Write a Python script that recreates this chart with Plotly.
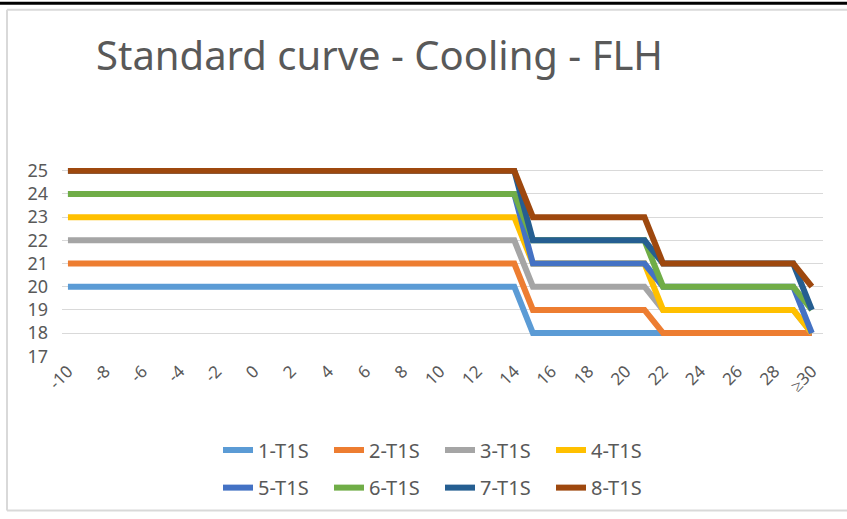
import plotly.graph_objects as go

# Outdoor temperature categories (-10 ... 29, then >=30)
temps = [str(t) for t in range(-10, 30)] + ["≥30"]
tick_labels = [str(t) for t in range(-10, 30, 2)] + ["≥30"]

# Setpoint per temperature band: -10..14, 15..21, 22..29, >=30
band_sizes = [25, 7, 8, 1]
s1 = [20, 18, 18, 18]
s2 = [21, 19, 18, 18]
s3 = [22, 20, 19, 18]
s4 = [23, 21, 19, 18]
s5 = [24, 21, 20, 18]
s6 = [24, 22, 20, 19]
s7 = [25, 22, 21, 19]
s8 = [25, 23, 21, 20]

names = ["1-T1S", "2-T1S", "3-T1S", "4-T1S", "5-T1S", "6-T1S", "7-T1S", "8-T1S"]
bands = [s1, s2, s3, s4, s5, s6, s7, s8]
colors = ["#5B9BD5", "#ED7D31", "#A5A5A5", "#FFC000",
          "#4472C4", "#70AD47", "#255E91", "#9E480E"]


def expand(levels):
    out = []
    for v, n in zip(levels, band_sizes):
        out += [v] * n
    return out


fig = go.Figure()
for i, (name, lv, c) in enumerate(zip(names, bands, colors)):
    fig.add_trace(go.Scatter(
        x=temps, y=expand(lv), name=name, mode="lines",
        line=dict(color=c, width=6),
        legend="legend" if i < 4 else "legend2",
    ))

L, R, T, B = 62, 24, 168, 160
W, H = 847, 519
pw, ph = W - L - R, H - T - B


def px_x(px):
    return (px - L) / pw


def px_y(py):
    return (H - B - py) / ph


grey = "#595959"
legend_style = dict(orientation="h", x=px_x(218), xanchor="left",
                    yanchor="middle",
                    font=dict(size=20, color=grey),
                    entrywidth=66, entrywidthmode="pixels",
                    bgcolor="rgba(0,0,0,0)", tracegroupgap=0)

fig.update_layout(
    width=W, height=H,
    margin=dict(l=L, r=R, t=T, b=B),
    paper_bgcolor="white", plot_bgcolor="white",
    font=dict(family="Noto Sans", color=grey),
    title=dict(text="Standard curve - Cooling - FLH",
               font=dict(size=40, color=grey, family="Noto Sans"),
               x=96 / W, xanchor="left", xref="container",
               y=1 - 56 / H, yanchor="middle", yref="container"),
    xaxis=dict(type="category", categoryorder="array", categoryarray=temps,
               range=[-0.32, 40.6], tickmode="array", tickvals=tick_labels,
               ticktext=tick_labels, tickangle=-45,
               tickfont=dict(size=17, color=grey),
               showgrid=False, showline=False, ticks="", zeroline=False),
    yaxis=dict(range=[16.97, 25.12], tickmode="array",
               tickvals=list(range(17, 26)),
               tickfont=dict(size=18, color=grey),
               showgrid=True, gridcolor="#D9D9D9", gridwidth=1,
               zeroline=False, showline=False, ticks="",
               ticklabelstandoff=13),
    legend=dict(legend_style, y=px_y(453)),
    legend2=dict(legend_style, y=px_y(491)),
    shapes=[
        # dark band along the top edge
        dict(type="rect", xref="paper", yref="paper",
             x0=px_x(0), x1=px_x(W), y0=px_y(0), y1=px_y(3),
             fillcolor="black", line=dict(width=0), layer="above"),
        # light frame around the chart
        dict(type="line", xref="paper", yref="paper",
             x0=px_x(7), x1=px_x(W), y0=px_y(8), y1=px_y(8),
             line=dict(color="#D9D9D9", width=2)),
        dict(type="line", xref="paper", yref="paper",
             x0=px_x(7), x1=px_x(7), y0=px_y(8), y1=px_y(514),
             line=dict(color="#D9D9D9", width=2)),
        dict(type="line", xref="paper", yref="paper",
             x0=px_x(7), x1=px_x(W), y0=px_y(514), y1=px_y(514),
             line=dict(color="#D9D9D9", width=2)),
    ],
)

fig.write_html("out.html")
